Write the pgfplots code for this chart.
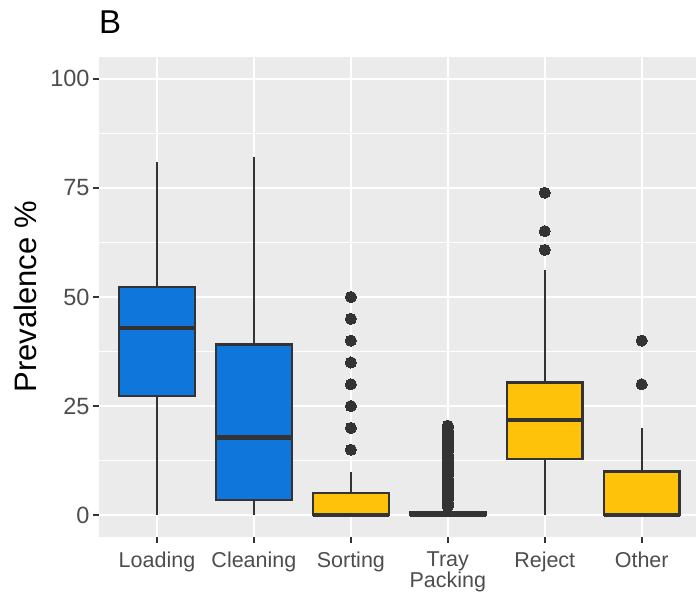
\documentclass[border=0pt]{standalone}
\usepackage{pgfplots}
\pgfplotsset{compat=1.18}
\usepgfplotslibrary{statistics}
\usepackage{fontspec}
\setmainfont{Liberation Sans}
\definecolor{panel}{HTML}{EBEBEB}
\definecolor{dark}{HTML}{333333}
\definecolor{ticktxt}{HTML}{4D4D4D}
\definecolor{boxblue}{HTML}{0F77DB}
\definecolor{boxyellow}{HTML}{FFC20A}
\begin{document}
\begin{tikzpicture}
\begin{axis}[
    at={(0,0)}, anchor=south west,
    scale only axis, width=597pt, height=480pt,
    xmin=0.402, xmax=6.56, ymin=-5, ymax=105,
    axis background/.style={fill=panel},
    axis line style={draw=none},
    xtick={1,2,3,4,5,6},
    xticklabels={Loading,Cleaning,Sorting,Tray\\Packing,Reject,Other},
    ytick={0,25,50,75,100},
    minor ytick={12.5,37.5,62.5,87.5},
    grid=both,
    major grid style={white, line width=1.7pt},
    minor grid style={white, line width=0.85pt},
    xtick pos=bottom, ytick pos=left,
    tick align=outside,
    major tick length=6pt, minor tick length=0pt,
    tick style={dark, line width=1.6pt},
    /pgf/number format/assume math mode=true,
    ticklabel style={text=ticktxt},
    yticklabel style={font=\fontsize{23.5}{23}\selectfont},
    xticklabel style={font=\fontsize{21.5}{16}\selectfont, align=center, anchor=north, yshift=-5pt},
    ylabel={Prevalence \%},
    ylabel style={font=\fontsize{31}{31}\selectfont, at={(axis description cs:-0.124,0.5)}, anchor=center},
    boxplot/draw direction=y,
    boxplot/box extend=0.78,
    boxplot/whisker extend=0,
    boxplot/every median/.style={line width=4.4pt},
    every axis plot/.append style={draw=dark, line width=2.2pt, mark=*, mark size=5.6pt, mark options={fill=dark, draw=dark, line width=0pt}},
]
% Loading
\addplot[boxplot prepared={lower whisker=0, lower quartile=27.3, median=42.9, upper quartile=52.2, upper whisker=81, draw position=1}, fill=boxblue] coordinates {};
% Cleaning
\addplot[boxplot prepared={lower whisker=0, lower quartile=3.5, median=17.8, upper quartile=39.1, upper whisker=82, draw position=2}, fill=boxblue] coordinates {};
% Sorting
\addplot[boxplot prepared={lower whisker=0, lower quartile=0, median=0, upper quartile=5, upper whisker=10, draw position=3}, fill=boxyellow] coordinates {
(3,15) (3,20) (3,25) (3,30) (3,35) (3,40) (3,45) (3,50)};
% Tray Packing
\addplot[boxplot prepared={lower whisker=0, lower quartile=0, median=0, upper quartile=0.6, upper whisker=1.4, draw position=4}, fill=boxyellow] coordinates {
(4,2.0) (4,2.5) (4,3.0) (4,3.5) (4,4.0) (4,4.5) (4,5.0) (4,5.5) (4,6.0) (4,6.5)
(4,7.0) (4,7.5) (4,8.0) (4,8.5) (4,9.0) (4,9.5) (4,10.0) (4,10.5) (4,11.0) (4,11.5)
(4,12.0) (4,12.5) (4,13.0) (4,13.5) (4,14.0) (4,14.5) (4,15.0) (4,15.5) (4,16.0) (4,16.5)
(4,17.0) (4,17.5) (4,18.0) (4,18.5) (4,19.0) (4,19.5) (4,20.0) (4,20.5)};
% Reject
\addplot[boxplot prepared={lower whisker=0, lower quartile=12.9, median=21.8, upper quartile=30.4, upper whisker=56.3, draw position=5}, fill=boxyellow] coordinates {
(5,60.8) (5,65.1) (5,73.9)};
% Other
\addplot[boxplot prepared={lower whisker=0, lower quartile=0, median=0, upper quartile=10, upper whisker=20, draw position=6}, fill=boxyellow] coordinates {
(6,30) (6,40)};
\end{axis}
\node[anchor=base west, inner sep=0pt, font=\fontsize{33}{33}\selectfont] at (0pt,503pt) {B};
\pgfresetboundingbox
\path (-99pt,-57pt) rectangle (597pt,537pt);
\end{tikzpicture}
\end{document}
